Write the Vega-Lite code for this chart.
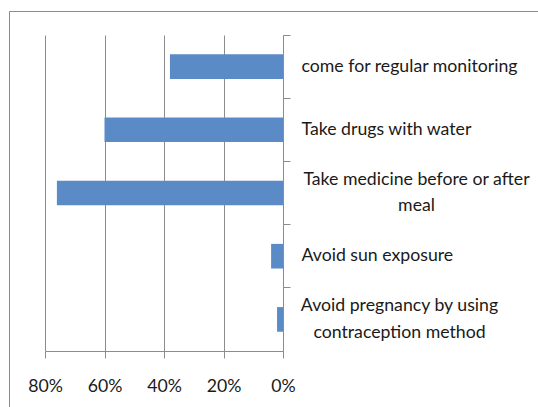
{
  "$schema": "https://vega.github.io/schema/vega-lite/v6.json",
  "width": 529,
  "height": 396,
  "autosize": {"type": "none"},
  "padding": {"left": 9, "top": 11, "right": 0, "bottom": 0},
  "background": "white",
  "data": {
    "values": [
      {"advice": "come for regular monitoring", "pct": 38},
      {"advice": "Take drugs with water", "pct": 60},
      {"advice": "Take medicine before or after meal", "pct": 76},
      {"advice": "Avoid sun exposure", "pct": 4},
      {"advice": "Avoid pregnancy by using contraception method", "pct": 2}
    ]
  },
  "mark": {"type": "bar", "color": "#5b8bc7"},
  "encoding": {
    "y": {
      "field": "advice",
      "type": "nominal",
      "sort": null,
      "scale": {"range": [24, 340], "paddingInner": 0.61, "paddingOuter": 0.305},
      "axis": {
        "orient": "right",
        "offset": -255,
        "title": null,
        "domainColor": "#8c8c8c",
        "tickColor": "#8c8c8c",
        "tickSize": 7,
        "bandPosition": -0.782,
        "labelFont": "Lato",
        "labelFontSize": 17.7,
        "labelColor": "#1a1a1a",
        "labelLimit": 0,
        "labelLineHeight": 26.7,
        "labelBaseline": "middle",
        "labelExpr": "datum.value == 'Take medicine before or after meal' ? ['Take medicine before or after', 'meal'] : datum.value == 'Avoid pregnancy by using contraception method' ? ['Avoid pregnancy by using', 'contraception method'] : datum.value",
        "labelAlign": {
          "condition": {"test": "datum.value == 'Take medicine before or after meal' || datum.value == 'Avoid pregnancy by using contraception method'", "value": "center"},
          "value": "left"
        },
        "labelOffset": {
          "condition": {"test": "datum.value == 'Take medicine before or after meal' || datum.value == 'Avoid pregnancy by using contraception method'", "value": -13.35},
          "value": 0
        },
        "labelPadding": {
          "condition": [
            {"test": "datum.value == 'Take medicine before or after meal'", "value": 126},
            {"test": "datum.value == 'Avoid pregnancy by using contraception method'", "value": 109}
          ],
          "value": 11
        }
      }
    },
    "x": {
      "field": "pct",
      "type": "quantitative",
      "scale": {"domain": [0, 80], "range": [274, 36], "nice": false, "zero": true},
      "axis": {
        "orient": "top",
        "offset": -340,
        "title": null,
        "values": [0, 20, 40, 60, 80],
        "labelExpr": "datum.value + '%'",
        "grid": true,
        "gridColor": "#8c8c8c",
        "domainColor": "#8c8c8c",
        "tickColor": "#8c8c8c",
        "tickSize": -7,
        "labelBaseline": "top",
        "labelPadding": -19,
        "labelFont": "Lato",
        "labelFontSize": 17.7,
        "labelColor": "#1a1a1a",
        "labelFlush": false,
        "labelOverlap": false
      }
    },
    "x2": {"datum": 0}
  },
  "config": {
    "view": {"stroke": "#8c8c8c", "strokeDash": [529, 925, 396, 2000]}
  }
}
